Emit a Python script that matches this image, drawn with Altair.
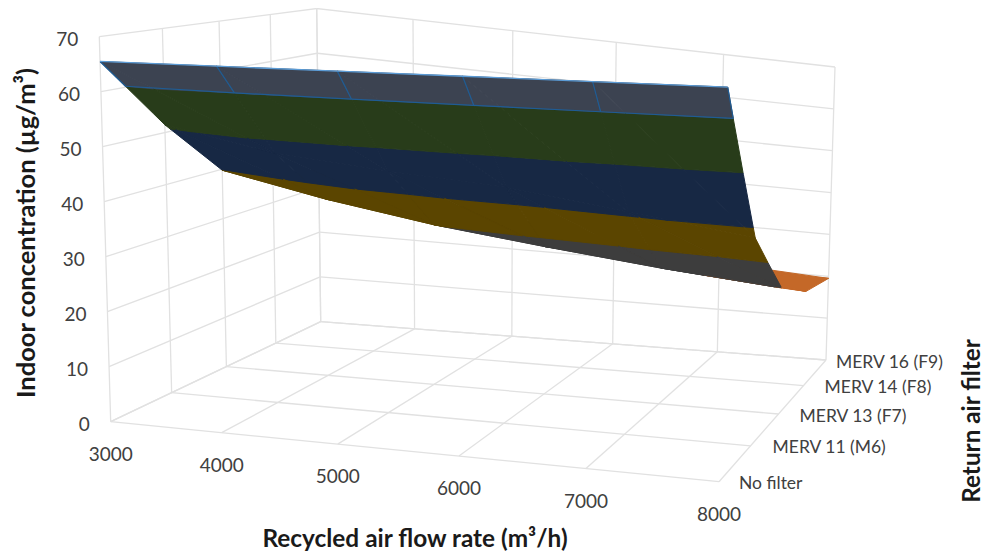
import altair as alt
import numpy as np
import pandas as pd

# ---------- values ----------
flows = [3000, 4000, 5000, 6000, 7000, 8000]
filters = ["No filter", "MERV 11 (M6)", "MERV 13 (F7)", "MERV 14 (F8)", "MERV 16 (F9)"]
z_no_filter = [65.5, 65.5, 65.5, 65.5, 65.5, 65.5]
z_merv11 = [51.5, 47.5, 45.5, 44.0, 41.0, 37.9]
z_merv13 = [39.8, 35.6, 32.2, 29.6, 27.2, 25.2]
z_merv14 = [36.0, 32.0, 29.0, 26.0, 23.5, 20.6]
z_merv16 = [34.0, 30.0, 27.0, 24.5, 21.0, 19.5]
z_ticks = [0, 10, 20, 30, 40, 50, 60, 70]

# colour bands of the surface
band_edges = [0, 25.3, 32, 40, 50.5, 60.2, 70]
band_colors = ["#c46828", "#3d3d3d", "#5b4500", "#172844", "#283c1a", "#3c4351"]

# ---------- view of the 3-D box ----------
floor_box = [(110.7, 421.7), (719, 481.7), (826, 360), (320.7, 321.7)]
roof_box = [(99.3, 36.7), (728.3, 60), (835, 67), (316.7, 8.5)]
z_max = 70.0


def homography(pts):
    src = [(0, 0), (1, 0), (1, 1), (0, 1)]
    A, b = [], []
    for (s, t), (x, y) in zip(src, pts):
        A.append([s, t, 1, 0, 0, 0, -s * x, -t * x])
        A.append([0, 0, 0, s, t, 1, -s * y, -t * y])
        b += [x, y]
    h = np.linalg.solve(np.array(A, float), np.array(b, float))
    return np.append(h, 1).reshape(3, 3)


H = homography(floor_box)


def on_floor(u, v):
    p = H @ np.array([u, v, 1.0])
    return p[0] / p[2], p[1] / p[2]


def project(u, v, z):
    fx, fy = on_floor(u, v)
    uw = (on_floor(u, 1)[0] - floor_box[3][0]) / (floor_box[2][0] - floor_box[3][0])
    vw = (on_floor(0, v)[0] - floor_box[0][0]) / (floor_box[3][0] - floor_box[0][0])
    c = [(1 - uw) * (1 - vw), uw * (1 - vw), uw * vw, (1 - uw) * vw]
    tx = sum(k * p[0] for k, p in zip(c, roof_box))
    ty = sum(k * p[1] for k, p in zip(c, roof_box))
    w = z / z_max
    return fx + (tx - fx) * w, fy + (ty - fy) * w


# ---------- grid lines ----------
nu, nv = len(flows) - 1, len(filters) - 1
grid = []


def add_line(name, a, b):
    for p in (a, b):
        x, y = project(*p)
        grid.append({"id": name, "x": x, "y": y})


for z in z_ticks:
    add_line(f"l{z}", (0, 0, z), (0, 1, z))
    add_line(f"b{z}", (0, 1, z), (1, 1, z))
for j in range(nu + 1):
    add_line(f"bv{j}", (j / nu, 1, 0), (j / nu, 1, z_max))
    add_line(f"fu{j}", (j / nu, 0, 0), (j / nu, 1, 0))
for i in range(nv + 1):
    add_line(f"lv{i}", (0, i / nv, 0), (0, i / nv, z_max))
    add_line(f"fv{i}", (0, i / nv, 0), (1, i / nv, 0))
grid = pd.DataFrame(grid)

# ---------- surface, painted from back to front, split at the colour bands ----------
rows = [z_no_filter, z_merv11, z_merv13, z_merv14, z_merv16]


def clip(poly, level, keep_above):
    out = []
    for k, a in enumerate(poly):
        b = poly[(k + 1) % len(poly)]
        ia = a[2] >= level if keep_above else a[2] <= level
        ib = b[2] >= level if keep_above else b[2] <= level
        if ia:
            out.append(a)
        if ia != ib:
            t = (level - a[2]) / (b[2] - a[2])
            out.append(tuple(a[m] + t * (b[m] - a[m]) for m in range(3)))
    return out


def envelope(pts):
    xs = sorted(set(round(p[0], 3) for p in pts))
    res = []
    for x in xs:
        ys = []
        for k, a in enumerate(pts):
            b = pts[(k + 1) % len(pts)]
            lo, hi = sorted((a[0], b[0]))
            if lo - 0.002 <= x <= hi + 0.002:
                if abs(b[0] - a[0]) < 1e-6:
                    ys += [a[1], b[1]]
                else:
                    t = min(1, max(0, (x - a[0]) / (b[0] - a[0])))
                    ys.append(a[1] + t * (b[1] - a[1]))
        res.append((x, min(ys), max(ys)))
    return res


patches = []
pid = 0
for i in range(nv - 1, -1, -1):
    for j in range(nu):
        corner = lambda ii, jj: (jj / nu, ii / nv, rows[ii][jj])
        tris = [
            [corner(i, j), corner(i, j + 1), corner(i + 1, j + 1)],
            [corner(i, j), corner(i + 1, j + 1), corner(i + 1, j)],
        ]
        for tri in tris:
            for lo, hi, col in zip(band_edges[:-1], band_edges[1:], band_colors):
                poly = clip(clip(tri, lo, True), hi, False)
                if len(poly) < 3:
                    continue
                pts = [project(*p) for p in poly]
                env = envelope(pts)
                if len(env) < 2:
                    continue
                for k, (x, y0, y1) in enumerate(env):
                    patches.append({"id": f"p{pid:04d}", "px": x, "py": y0, "py2": y1, "col": col})
                pid += 1
patches = pd.DataFrame(patches)

# ---------- wire lines of the top band ----------
top_level = band_edges[-2]
wire = []
contour = []
for j in range(nu + 1):
    u = j / nu
    z0, z1 = rows[0][j], rows[1][j]
    t = (z0 - top_level) / (z0 - z1)
    a = project(u, 0, z0)
    b = project(u, t / nv, top_level)
    wire += [{"id": f"c{j}", "x": a[0], "y": a[1]}, {"id": f"c{j}", "x": b[0], "y": b[1]}]
    contour.append({"id": "contour", "x": b[0], "y": b[1]})
wire = pd.DataFrame(wire + contour)
edge = pd.DataFrame([dict(zip(("x", "y"), project(j / nu, 0, rows[0][j]))) for j in range(nu + 1)])

# ---------- labels ----------
z_lab = pd.DataFrame([dict(zip(("x", "y"), project(0, 0, z)), t=str(z)) for z in z_ticks])
x_lab = pd.DataFrame([dict(zip(("x", "y"), project(j / nu, 0, 0)), t=str(f)) for j, f in enumerate(flows)])
f_gap = [20, 22, 21, 21, 10]
f_lab = pd.DataFrame(
    [
        dict(zip(("x", "y"), project(1, i / nv, 0)), t=t, g=f_gap[i])
        for i, t in enumerate(filters)
    ]
)
f_lab["x"] = f_lab["x"] + f_lab["g"]
titles_h = pd.DataFrame([{"x": 415, "y": 540, "t": "Recycled air flow rate (m³/h)"}])
titles_y = pd.DataFrame([{"x": 27, "y": 233, "t": "Indoor concentration (µg/m³)"}])
titles_r = pd.DataFrame([{"x": 973, "y": 421, "t": "Return air filter"}])

# ---------- chart: scales run in page pixels of the picture ----------
W, H_ = 978, 544
PAGE_X, PAGE_Y = 8, 8
sx = alt.Scale(domain=[PAGE_X, PAGE_X + W], nice=False, zero=False)
sy = alt.Scale(domain=[PAGE_Y + H_, PAGE_Y], nice=False, zero=False)
X = alt.X("x:Q", scale=sx, axis=None)
Y = alt.Y("y:Q", scale=sy, axis=None)
FONT = "Lato"
TICK = "#404040"

grid_layer = alt.Chart(grid).mark_line(color="#e1e1e1", strokeWidth=1.3).encode(x=X, y=Y, detail="id:N")
surface = (
    alt.Chart(patches)
    .mark_area(strokeWidth=1)
    .encode(
        x=alt.X("px:Q", scale=sx, axis=None),
        y=alt.Y("py:Q", scale=sy, axis=None),
        y2=alt.Y2("py2:Q"),
        detail="id:N",
        fill=alt.Fill("col:N", scale=None),
        stroke=alt.Stroke("col:N", scale=None),
    )
)
wire_layer = alt.Chart(wire).mark_line(color="#1f5c94", strokeWidth=1.2).encode(x=X, y=Y, detail="id:N")
edge_layer = alt.Chart(edge).mark_line(color="#5b9bd5", strokeWidth=1.3).encode(x=X, y=Y)

z_text = alt.Chart(z_lab).mark_text(font=FONT, fontSize=19, color=TICK, align="right", dx=-21, dy=3).encode(x=X, y=Y, text="t:N")
x_text = alt.Chart(x_lab).mark_text(font=FONT, fontSize=19, color=TICK, align="center", dy=33).encode(x=X, y=Y, text="t:N")
f_text = alt.Chart(f_lab).mark_text(font=FONT, fontSize=17.5, color=TICK, align="left", dy=2.5).encode(x=X, y=Y, text="t:N")
t_h = alt.Chart(titles_h).mark_text(font=FONT, fontSize=24.4, fontWeight="bold", color="#1a1a1a").encode(x=X, y=Y, text="t:N")
t_y = alt.Chart(titles_y).mark_text(font=FONT, fontSize=25.5, fontWeight="bold", color="#1a1a1a", angle=270).encode(x=X, y=Y, text="t:N")
t_r = alt.Chart(titles_r).mark_text(font=FONT, fontSize=24.3, fontWeight="bold", color="#1a1a1a", angle=270).encode(x=X, y=Y, text="t:N")

chart = (
    alt.layer(grid_layer, surface, wire_layer, edge_layer, z_text, x_text, f_text, t_h, t_y, t_r)
    .properties(width=W, height=H_, padding=0, background="#ffffff", autosize=alt.AutoSizeParams(type="none"))
    .configure_view(stroke=None)
)
chart.save("out.html", embed_options={"renderer": "svg", "actions": False})
